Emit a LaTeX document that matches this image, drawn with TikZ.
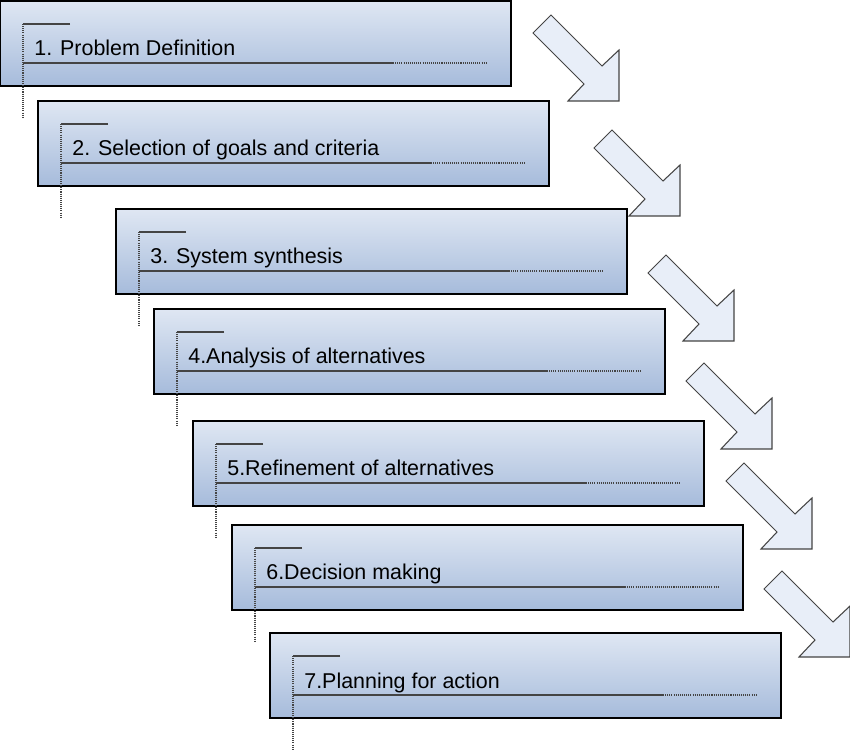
\documentclass[tikz,border=0pt]{standalone}
\usepackage{fontspec}
\setmainfont{Liberation Sans}
\definecolor{boxtop}{HTML}{DFE7F3}
\definecolor{boxbottom}{HTML}{A6BBDB}
\definecolor{arrowfill}{HTML}{E8EEF8}
\definecolor{guidegray}{HTML}{444444}
\tikzset{
	stepbox/.style={draw=black, line width=1.3pt, top color=boxtop, bottom color=boxbottom, minimum width=10.22cm, minimum height=1.7cm, inner sep=0pt, outer sep=0pt, anchor=north west},
	steptext/.style={anchor=base west, inner sep=0pt, font=\fontsize{12.2}{14}\selectfont},
	guide/.style={guidegray, line width=0.7pt},
	guidedots/.style={guidegray, line width=0.8pt, dash pattern=on 0.6pt off 0.6pt},
	blockarrow/.style={draw=guidegray, line width=0.6pt, fill=arrowfill, line join=miter},
}
\begin{document}
\begin{tikzpicture}[x=0.02cm, y=-0.02cm]
	\useasboundingbox (0,0) rectangle (850,750);
	
	\draw[blockarrow, shift={(619,101)}] (0,0) -- (-51,0) -- (-35,-17) -- (-86,-68) -- (-68,-86) -- (-17,-35) -- (0,-51) -- cycle;
	\draw[blockarrow, shift={(680,216)}] (0,0) -- (-51,0) -- (-35,-17) -- (-86,-68) -- (-68,-86) -- (-17,-35) -- (0,-51) -- cycle;
	\draw[blockarrow, shift={(734,341)}] (0,0) -- (-51,0) -- (-35,-17) -- (-86,-68) -- (-68,-86) -- (-17,-35) -- (0,-51) -- cycle;
	\draw[blockarrow, shift={(772,449)}] (0,0) -- (-51,0) -- (-35,-17) -- (-86,-68) -- (-68,-86) -- (-17,-35) -- (0,-51) -- cycle;
	\draw[blockarrow, shift={(812,549)}] (0,0) -- (-51,0) -- (-35,-17) -- (-86,-68) -- (-68,-86) -- (-17,-35) -- (0,-51) -- cycle;
	\draw[blockarrow, shift={(850,657)}] (0,0) -- (-51,0) -- (-35,-17) -- (-86,-68) -- (-68,-86) -- (-17,-35) -- (0,-51) -- cycle;
	
	\node[stepbox] (b1) at (0,1) {};
	\node[steptext] (t1) at ([shift={(34,55)}]b1.north west) {1. Problem Definition};
	\draw[guide] ([shift={(70,23)}]b1.north west) -- ([shift={(23,23)}]b1.north west);
	\draw[guidedots] ([shift={(23,23)}]b1.north west) -- ([shift={(23,117)}]b1.north west);
	\draw[guide] ([shift={(23,62)}]b1.north west) -- ([shift={(393,62)}]b1.north west);
	\draw[guidedots] ([shift={(393,62)}]b1.north west) -- ([shift={(487,62)}]b1.north west);
	
	\node[stepbox] (b2) at (38,101) {};
	\node[steptext] (t2) at ([shift={(34,55)}]b2.north west) {2. Selection of goals and criteria};
	\draw[guide] ([shift={(70,23)}]b2.north west) -- ([shift={(23,23)}]b2.north west);
	\draw[guidedots] ([shift={(23,23)}]b2.north west) -- ([shift={(23,117)}]b2.north west);
	\draw[guide] ([shift={(23,62)}]b2.north west) -- ([shift={(393,62)}]b2.north west);
	\draw[guidedots] ([shift={(393,62)}]b2.north west) -- ([shift={(487,62)}]b2.north west);
	
	\node[stepbox] (b3) at (116,209) {};
	\node[steptext] (t3) at ([shift={(34,55)}]b3.north west) {3. System synthesis};
	\draw[guide] ([shift={(70,23)}]b3.north west) -- ([shift={(23,23)}]b3.north west);
	\draw[guidedots] ([shift={(23,23)}]b3.north west) -- ([shift={(23,117)}]b3.north west);
	\draw[guide] ([shift={(23,62)}]b3.north west) -- ([shift={(393,62)}]b3.north west);
	\draw[guidedots] ([shift={(393,62)}]b3.north west) -- ([shift={(487,62)}]b3.north west);
	
	\node[stepbox] (b4) at (154,309) {};
	\node[steptext] (t4) at ([shift={(34,55)}]b4.north west) {4.Analysis of alternatives};
	\draw[guide] ([shift={(70,23)}]b4.north west) -- ([shift={(23,23)}]b4.north west);
	\draw[guidedots] ([shift={(23,23)}]b4.north west) -- ([shift={(23,117)}]b4.north west);
	\draw[guide] ([shift={(23,62)}]b4.north west) -- ([shift={(393,62)}]b4.north west);
	\draw[guidedots] ([shift={(393,62)}]b4.north west) -- ([shift={(487,62)}]b4.north west);
	
	\node[stepbox] (b5) at (193,421) {};
	\node[steptext] (t5) at ([shift={(34,55)}]b5.north west) {5.Refinement of alternatives};
	\draw[guide] ([shift={(70,23)}]b5.north west) -- ([shift={(23,23)}]b5.north west);
	\draw[guidedots] ([shift={(23,23)}]b5.north west) -- ([shift={(23,117)}]b5.north west);
	\draw[guide] ([shift={(23,62)}]b5.north west) -- ([shift={(393,62)}]b5.north west);
	\draw[guidedots] ([shift={(393,62)}]b5.north west) -- ([shift={(487,62)}]b5.north west);
	
	\node[stepbox] (b6) at (232,525) {};
	\node[steptext] (t6) at ([shift={(34,55)}]b6.north west) {6.Decision making};
	\draw[guide] ([shift={(70,23)}]b6.north west) -- ([shift={(23,23)}]b6.north west);
	\draw[guidedots] ([shift={(23,23)}]b6.north west) -- ([shift={(23,117)}]b6.north west);
	\draw[guide] ([shift={(23,62)}]b6.north west) -- ([shift={(393,62)}]b6.north west);
	\draw[guidedots] ([shift={(393,62)}]b6.north west) -- ([shift={(487,62)}]b6.north west);
	
	\node[stepbox] (b7) at (270,633) {};
	\node[steptext] (t7) at ([shift={(34,55)}]b7.north west) {7.Planning for action};
	\draw[guide] ([shift={(70,23)}]b7.north west) -- ([shift={(23,23)}]b7.north west);
	\draw[guidedots] ([shift={(23,23)}]b7.north west) -- ([shift={(23,117)}]b7.north west);
	\draw[guide] ([shift={(23,62)}]b7.north west) -- ([shift={(393,62)}]b7.north west);
	\draw[guidedots] ([shift={(393,62)}]b7.north west) -- ([shift={(487,62)}]b7.north west);
\end{tikzpicture}
\end{document}
